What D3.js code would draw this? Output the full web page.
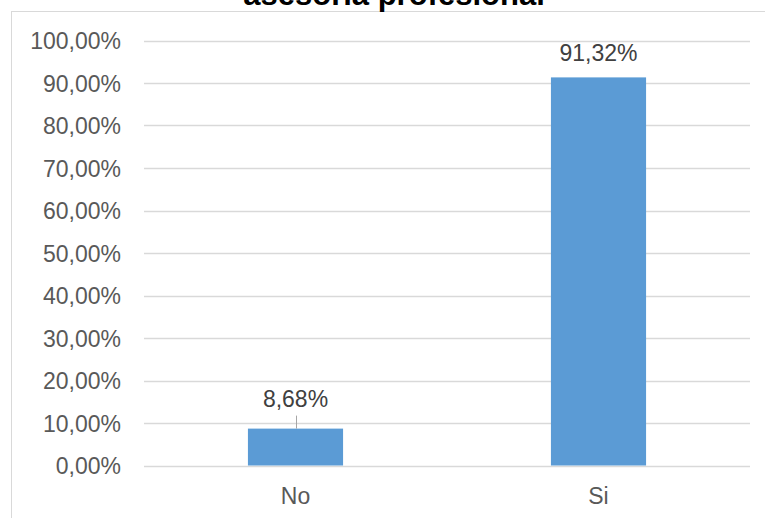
<!DOCTYPE html>
<html><head><meta charset="utf-8">
<script src="https://cdn.jsdelivr.net/npm/d3@7"></script>
<style>body{margin:0;background:#fff}svg{display:block}text{font-family:"Liberation Sans",Arial,sans-serif}</style>
</head><body>
<svg id="c" width="765" height="518"></svg>
<script>
const categories = ["No", "Si"];
const values = [8.68, 91.32];
const valueLabels = ["8,68%", "91,32%"];
const yTicks = [0, 10, 20, 30, 40, 50, 60, 70, 80, 90, 100];
const yTickLabels = ["0,00%", "10,00%", "20,00%", "30,00%", "40,00%", "50,00%", "60,00%", "70,00%", "80,00%", "90,00%", "100,00%"];
const title = "asesoría profesional";

const svg = d3.select("#c");
const pLeft = 144, pRight = 750, pTop = 40.5, pBottom = 465.5;

// frame
svg.append("rect").attr("x", 11.5).attr("y", 11.5).attr("width", 770).attr("height", 520)
  .attr("fill", "none").attr("stroke", "#d9d9d9").attr("stroke-width", 1);

// title (partially cut at top, as in the reference)
svg.append("text").attr("x", 394).attr("y", 5).attr("text-anchor", "middle")
  .attr("font-size", 31).attr("font-weight", "bold").attr("fill", "#000").text(title);

const y = d3.scaleLinear().domain([0, 100]).range([pBottom, pTop]);
const x = d3.scaleBand().domain(categories).range([pLeft, pRight]).paddingInner(0.686).paddingOuter(0.343);

// gridlines
svg.append("g").selectAll("line").data(yTicks).join("line")
  .attr("x1", pLeft).attr("x2", pRight)
  .attr("y1", d => Math.round(y(d)) + 0.5).attr("y2", d => Math.round(y(d)) + 0.5)
  .attr("stroke", "#d9d9d9").attr("stroke-width", 1.3);

// y axis labels
const yAxis = d3.axisLeft(y).tickValues(yTicks).tickSize(0).tickPadding(0)
  .tickFormat((d, i) => yTickLabels[i]);
const gy = svg.append("g").attr("transform", `translate(121,0)`).call(yAxis);
gy.select(".domain").remove();
gy.selectAll("text").attr("font-size", 23).attr("fill", "#595959")
  .attr("font-family", "Liberation Sans, Arial, sans-serif").attr("dy", "0.36em");

// bars
svg.append("g").selectAll("rect").data(values).join("rect")
  .attr("x", (d, i) => x(categories[i])).attr("width", x.bandwidth())
  .attr("y", d => y(d)).attr("height", d => y(0) - y(d))
  .attr("fill", "#5b9bd5");

// x axis labels
const xAxis = d3.axisBottom(x).tickSize(0).tickPadding(0);
const gx = svg.append("g").attr("transform", `translate(0,${pBottom})`).call(xAxis);
gx.select(".domain").remove();
gx.selectAll("text").attr("font-size", 23).attr("fill", "#595959")
  .attr("font-family", "Liberation Sans, Arial, sans-serif").attr("dy", null).attr("y", 38);

// data labels
values.forEach((v, i) => {
  const cx = x(categories[i]) + x.bandwidth() / 2;
  const small = v < 20;
  const off = small ? 22 : 16;
  svg.append("text").attr("x", cx).attr("y", y(v) - off).attr("text-anchor", "middle")
    .attr("font-size", 23).attr("fill", "#404040").text(valueLabels[i]);
  if (small) {
    svg.append("line").attr("x1", Math.round(cx) + 0.5).attr("x2", Math.round(cx) + 0.5)
      .attr("y1", y(v) - 13).attr("y2", y(v))
      .attr("stroke", "#a6a6a6").attr("stroke-width", 1);
  }
});
</script>
</body></html>
